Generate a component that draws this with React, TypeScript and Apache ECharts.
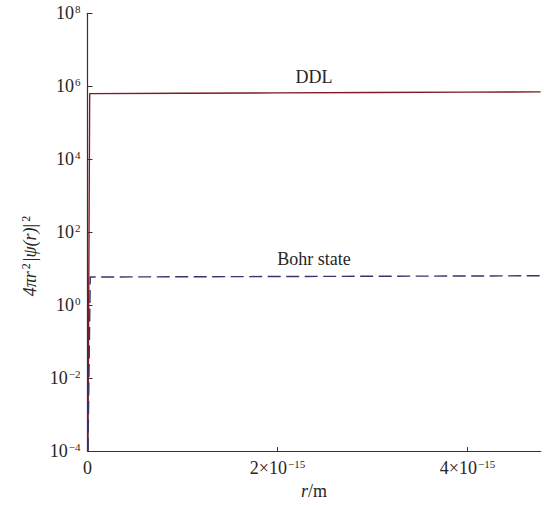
import React, { useEffect, useRef } from "react";
import * as echarts from "echarts";

// Data
const ddlR = [5e-18, 2.3e-17, 1e-15, 2e-15, 3e-15, 4e-15, 4.77e-15];
const ddlVal = [1e-4, 6.3e5, 6.45e5, 6.6e5, 6.75e5, 6.9e5, 7.0e5];
const bohrR = [5e-18, 2.9e-17, 1e-15, 2e-15, 3e-15, 4e-15, 4.77e-15];
const bohrVal = [1e-4, 5.9, 6.0, 6.1, 6.2, 6.3, 6.4];
const xTickValues = [0, 2e-15, 4e-15];
const xTickLabels = ["0", "2×10|−15", "4×10|−15"];
const seriesNames = ["DDL", "Bohr state"];

const FONT = "'Liberation Serif', 'Times New Roman', serif";
const TXT = "#262626";

const supRich = {
  b: { fontFamily: FONT, fontSize: 18, color: TXT, lineHeight: 20 },
  s: { fontFamily: FONT, fontSize: 11, color: TXT, verticalAlign: "top", lineHeight: 20, padding: [0, 0, 0, 1] },
};

function supLabel(s: string) {
  const parts = s.split("|");
  if (parts.length === 1) return `{b|${parts[0]}}`;
  return `{b|${parts[0]}}{s|${parts[1]}}`;
}

export default function App() {
  const ref = useRef<HTMLDivElement>(null);
  useEffect(() => {
    if (!ref.current) return;
    const chart = echarts.init(ref.current, null, { renderer: "svg" });
    const ddlData = ddlR.map((r, i) => [r, ddlVal[i]]);
    const bohrData = bohrR.map((r, i) => [r, bohrVal[i]]);
    chart.setOption({
      animation: false,
      backgroundColor: "#ffffff",
      grid: { left: 87.5, right: 3.3, top: 13.3, bottom: 49.3, containLabel: false },
      xAxis: {
        type: "value",
        min: 0,
        max: 4.77e-15,
        interval: 2e-15,
        name: "{i|r}{n|/m}",
        nameLocation: "middle",
        nameGap: 28,
        nameTextStyle: {
          rich: {
            i: { fontFamily: FONT, fontSize: 18, fontStyle: "italic", color: TXT },
            n: { fontFamily: FONT, fontSize: 18, color: TXT },
          },
        },
        axisLine: { lineStyle: { color: "#333", width: 1.2 } },
        axisTick: { inside: true, length: 4, lineStyle: { color: "#333" } },
        splitLine: { show: false },
        axisLabel: {
          margin: 7,
          showMaxLabel: false,
          formatter: (v: number) => {
            const idx = xTickValues.findIndex((t) => Math.abs(t - v) < 1e-20);
            return idx >= 0 ? supLabel(xTickLabels[idx]) : "";
          },
          rich: supRich,
        },
      },
      yAxis: {
        type: "log",
        logBase: 10,
        min: 1e-4,
        max: 1e8,
        interval: 2,
        axisLine: { show: true, lineStyle: { color: "#333", width: 1.2 } },
        axisTick: { show: true, inside: true, length: 5, lineStyle: { color: "#333" } },
        splitLine: { show: false },
        minorTick: { show: false },
        axisLabel: {
          margin: 7,
          formatter: (v: number) => {
            const e = Math.round(Math.log10(v));
            const es = e < 0 ? "−" + Math.abs(e) : String(e);
            return `{b|10}{s|${es}}`;
          },
          rich: supRich,
        },
      },
      graphic: [
        {
          type: "text",
          x: 30,
          y: 255,
          rotation: Math.PI / 2,
          style: {
            text: "{i|4πr}{s|2}{n||}{i|ψ(r)}{n||}{s|2}",
            align: "center",
            verticalAlign: "middle",
            rich: {
              i: { fontFamily: FONT, fontSize: 18, fontStyle: "italic", fill: TXT, lineHeight: 20 },
              n: { fontFamily: FONT, fontSize: 18, fill: TXT, lineHeight: 20 },
              s: { fontFamily: FONT, fontSize: 12, fill: TXT, verticalAlign: "top", lineHeight: 20, padding: [0, 2, 0, 2] },
            },
          },
        },
      ],
      series: [
        {
          name: seriesNames[0],
          type: "line",
          data: ddlData,
          showSymbol: false,
          symbol: "none",
          lineStyle: { color: "#7d1a22", width: 1.4 },
          markPoint: {
            symbol: "circle",
            symbolSize: 0,
            data: [{ coord: [2.385e-15, 6.75e5] }],
            label: {
              show: true,
              position: "top",
              distance: 6,
              formatter: seriesNames[0],
              fontFamily: FONT,
              fontSize: 18,
              color: TXT,
            },
          },
        },
        {
          name: seriesNames[1],
          type: "line",
          data: bohrData,
          showSymbol: false,
          symbol: "none",
          lineStyle: { color: "#34346e", width: 1.4, type: [13, 5.5] },
          markPoint: {
            symbol: "circle",
            symbolSize: 0,
            data: [{ coord: [2.385e-15, 6.2] }],
            label: {
              show: true,
              position: "top",
              distance: 8,
              formatter: seriesNames[1],
              fontFamily: FONT,
              fontSize: 18,
              color: TXT,
            },
          },
        },
      ],
    });
    return () => chart.dispose();
  }, []);
  return (
    <div
      ref={ref}
      style={{ position: "absolute", left: 0, top: 0, width: 544, height: 505 }}
    />
  );
}
